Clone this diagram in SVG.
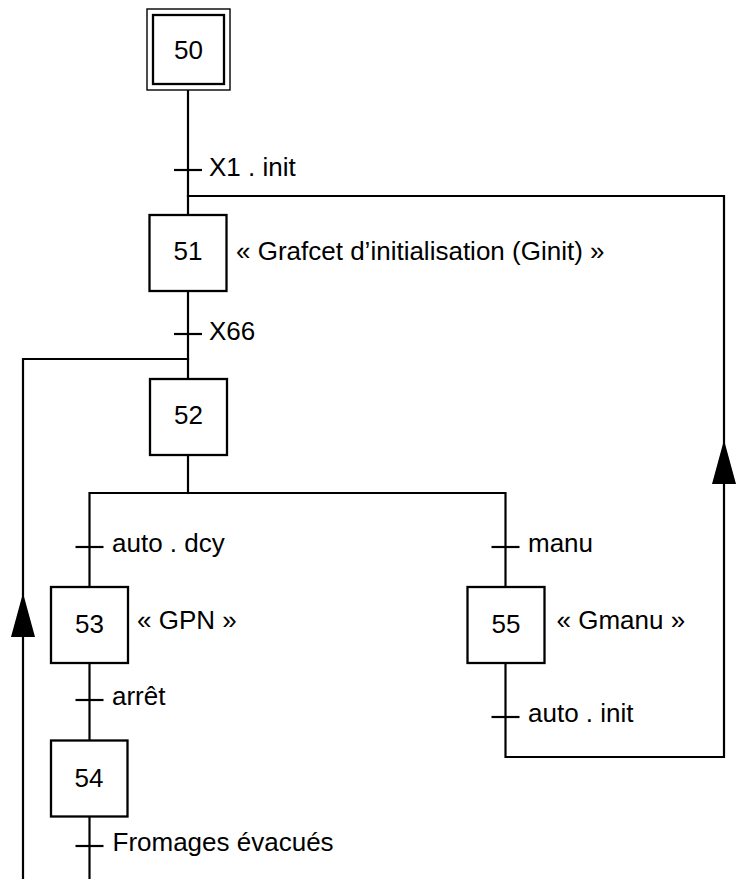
<svg xmlns="http://www.w3.org/2000/svg" xmlns:xlink="http://www.w3.org/1999/xlink" width="744" height="879" viewBox="0 0 744 879">
<style>
.ln{fill:none;stroke:#000;stroke-width:2.2;stroke-linecap:square}
.tk{fill:none;stroke:#000;stroke-width:2.2}
.box{fill:#fff;stroke:#000;stroke-width:2.3}
.num{font-family:"Liberation Sans",Arial,sans-serif;font-size:26px;fill:#000;text-anchor:middle}
.lbl{font-family:"Liberation Sans",Arial,sans-serif;font-size:26px;fill:#000}
</style>
<defs>
<path id="arr" d="M0,0 L-12,44 L12,44 Z" fill="#000"/>
</defs>
<rect width="744" height="879" fill="#fff"/>
<g id="connectors">
<path class="ln" d="M188,90 V215"/>
<path class="ln" d="M188,196 H724 V757 H505.5 V663"/>
<path class="ln" d="M188,291 V379"/>
<path class="ln" d="M188,359 H23 V879"/>
<path class="ln" d="M188,455 V493"/>
<path class="ln" d="M89.5,587 V493 H505.5 V587"/>
<path class="ln" d="M89.5,663 V741"/>
<path class="ln" d="M89.5,816 V880"/>
<path class="tk" d="M174,170 H202"/>
<path class="tk" d="M174,334 H202"/>
<path class="tk" d="M75.5,547 H103.5"/>
<path class="tk" d="M491.5,547 H519.5"/>
<path class="tk" d="M75.5,700 H103.5"/>
<path class="tk" d="M491.5,717 H519.5"/>
<path class="tk" d="M75.5,846 H103.5"/>
<use xlink:href="#arr" x="724" y="440"/>
<use xlink:href="#arr" x="23" y="593"/>
<text class="lbl" x="209" y="176">X1 . init</text>
<text class="lbl" x="209" y="339.5">X66</text>
<text class="lbl" x="112" y="552">auto . dcy</text>
<text class="lbl" x="528" y="552">manu</text>
<text class="lbl" x="112" y="704.5">arrêt</text>
<text class="lbl" x="528" y="722">auto . init</text>
<text class="lbl" x="112.5" y="851">Fromages évacués</text>
</g>
<g id="step50">
<rect x="147" y="9" width="83" height="81" fill="#fff" stroke="#000" stroke-width="1.4"/>
<rect x="153" y="15" width="71" height="69" fill="none" stroke="#000" stroke-width="2.3"/>
<text class="num" x="188.5" y="59">50</text>
</g>
<g id="step51">
<rect class="box" x="149.5" y="215" width="77" height="76"/>
<text class="num" x="188" y="260">51</text>
<text class="lbl" x="236" y="259.5">« Grafcet d’initialisation (Ginit) »</text>
</g>
<g id="step52">
<rect class="box" x="150" y="379" width="77" height="76"/>
<text class="num" x="188.5" y="424">52</text>
</g>
<g id="step53">
<rect class="box" x="51" y="587" width="77" height="76"/>
<text class="num" x="89.5" y="632.5">53</text>
<text class="lbl" x="137" y="628.5">« GPN »</text>
</g>
<g id="step54">
<rect class="box" x="51" y="740.5" width="76.5" height="76"/>
<text class="num" x="89" y="786.5">54</text>
</g>
<g id="step55">
<rect class="box" x="467.5" y="587" width="77" height="76"/>
<text class="num" x="506" y="632.5">55</text>
<text class="lbl" x="556.5" y="628.5">« Gmanu »</text>
</g>
</svg>
